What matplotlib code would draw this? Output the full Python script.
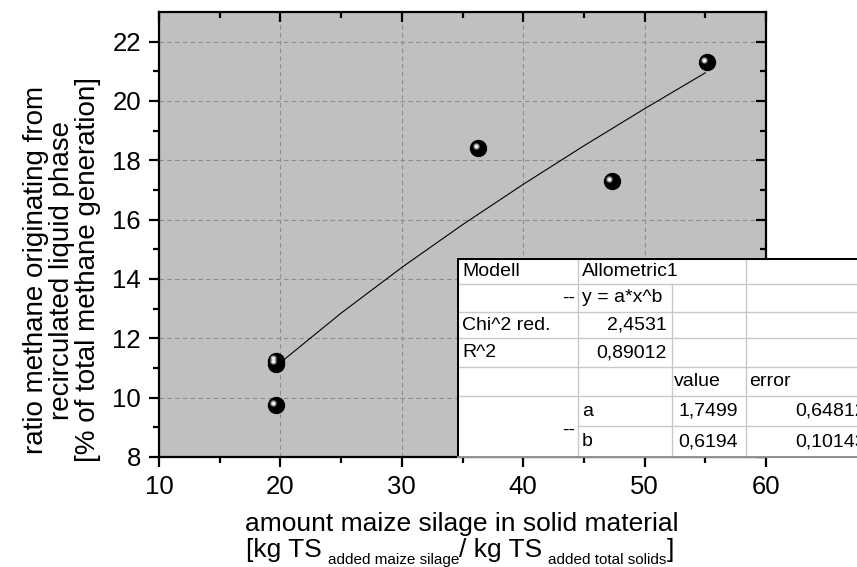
import numpy as np
import matplotlib
matplotlib.use('Agg')
import matplotlib.pyplot as plt
import matplotlib.transforms as mtransforms
from matplotlib.patches import Rectangle

plt.rcParams['font.family'] = ['Liberation Sans', 'DejaVu Sans']

# measured points
x_data = [19.6, 19.6, 19.6, 36.3, 47.3, 55.1]
y_data = [11.25, 11.15, 9.75, 18.4, 17.3, 21.3]

# fitted curve (Allometric1)
fit_x = [19.6, 25, 30, 35, 40, 45, 50, 55]
fit_y = [11.05, 12.85, 14.39, 15.83, 17.19, 18.49, 19.74, 20.95]

# fit report table
tab_rows = [
    ['Modell', 'Allometric1', '', ''],
    ['--', 'y = a*x^b', '', ''],
    ['Chi^2 red.', '2,4531', '', ''],
    ['R^2', '0,89012', '', ''],
    ['', '', 'value', 'error'],
    ['', 'a', '1,7499', '0,64812'],
    ['--', 'b', '0,6194', '0,10143'],
]

W, H = 857, 567
fig = plt.figure(figsize=(W / 100, H / 100), dpi=100)
ax = fig.add_axes([159 / W, 1 - 457 / H, (766 - 159) / W, (457 - 12) / H])
ax.set_facecolor('#c0c0c0')

ax.plot(fit_x, fit_y, color='black', lw=0.8, zorder=3)
ax.plot(x_data, y_data, 'o', ms=11.5, color='black', zorder=4)
hl = mtransforms.offset_copy(ax.transData, fig=fig, x=-2.5, y=2.5, units='dots')
ax.plot(x_data, y_data, 'o', ms=4.5, color='#9a9a9a', mec='none', transform=hl, zorder=5)
ax.plot(x_data, y_data, 'o', ms=2.2, color='white', mec='none', transform=hl, zorder=6)

ax.set_xlim(10, 60)
ax.set_ylim(8, 23)
ax.set_xticks(np.arange(10, 61, 10))
ax.set_xticks(np.arange(15, 60, 10), minor=True)
ax.set_yticks(np.arange(8, 23, 2))
ax.set_yticks(np.arange(9, 23, 2), minor=True)
ax.grid(True, which='major', color='#8c8c8c', ls=(0, (4, 3)), lw=0.8)
ax.set_axisbelow(True)

for s in ax.spines.values():
    s.set_linewidth(1.6)
ax.tick_params(which='both', top=True, right=True, width=1.6)
ax.tick_params(which='major', length=7, labelsize=18.5)
ax.tick_params(which='minor', length=4)
ax.tick_params(axis='x', which='both', top=True, labeltop=False, pad=6)
ax.tick_params(axis='y', which='both', right=True, labelright=False, pad=6)
# inward on top/right, outward on bottom/left
for t in ax.xaxis.get_major_ticks() + ax.xaxis.get_minor_ticks():
    t.tick2line.set_marker(3)
for t in ax.yaxis.get_major_ticks() + ax.yaxis.get_minor_ticks():
    t.tick2line.set_marker(0)

# x axis title, two lines; second line with small subscripts
fig.text(462 / W, 1 - 531 / H, 'amount maize silage in solid material',
         ha='center', va='baseline', fontsize=19)
pieces = [('[kg TS', 19, 0, 6), ('added maize silage', 11, 7, 0),
          ('/ kg TS', 19, 0, 6), ('added total solids', 11, 7, 0), (']', 19, 0, 0)]
rend = fig.canvas.get_renderer()
widths = []
for txt, size, dy, gap in pieces:
    t = fig.text(0, 0, txt, fontsize=size)
    widths.append(t.get_window_extent(rend).width)
    t.remove()
total = sum(widths) + sum(p[3] for p in pieces)
xpos = 460 - total / 2
for (txt, size, dy, gap), w in zip(pieces, widths):
    fig.text(xpos / W, 1 - (557 + dy) / H, txt, fontsize=size, ha='left', va='baseline')
    xpos += w + gap

fig.text(62 / W, 1 - 270 / H,
         'ratio methane originating from\nrecirculated liquid phase\n[% of total methane generation]',
         rotation=90, ha='center', va='center', fontsize=20, multialignment='center',
         linespacing=0.98)

# table drawn on its own axes, running off the right edge
tab = fig.add_axes([457 / W, 1 - 458 / H, 420 / W, 200 / H], zorder=10)
tab.set_xlim(0, 420)
tab.set_ylim(200, 0)
tab.axis('off')
tab.add_patch(Rectangle((0, 0), 420, 200, facecolor='white', edgecolor='none'))
row_y = [0, 26, 54, 80, 109, 138, 168, 200]
col_x = [0, 121, 215, 289, 420]
lc = '#c8c8c8'
for yy in row_y[1:-1]:
    tab.plot([col_x[1] if yy == 168 else 0, 420], [yy, yy], color=lc, lw=1)
tab.plot([121, 121], [0, 200], color=lc, lw=1)
tab.plot([215, 215], [26, 200], color=lc, lw=1)
tab.plot([289, 289], [0, 200], color=lc, lw=1)
tab.plot([0, 420], [0, 0], color='black', lw=2.2)
tab.plot([0, 0], [0, 200], color='black', lw=2.2)
tab.plot([0, 420], [199, 199], color='#8a8a8a', lw=2)

fs = 14
for r, row in enumerate(tab_rows):
    yc = (row_y[r] + row_y[r + 1]) / 2
    for c, txt in enumerate(row):
        if not txt:
            continue
        kw = dict(va='center', fontsize=fs)
        if c == 0 and txt == '--':
            tab.text(118, 172 if r == 6 else yc, txt, ha='right', **kw)
        elif c == 0:
            tab.text(5, yc, txt, ha='left', **kw)
        elif c == 1 and r in (2, 3):
            tab.text(210, yc, txt, ha='right', **kw)
        elif c == 1:
            tab.text(125, yc, txt, ha='left', **kw)
        elif c == 2 and r >= 5:
            tab.text(281, yc, txt, ha='right', **kw)
        elif c == 2:
            tab.text(217, yc, txt, ha='left', **kw)
        elif c == 3 and r >= 5:
            tab.text(338, yc, txt, ha='left', **kw)
        else:
            tab.text(292, yc, txt, ha='left', **kw)

fig.savefig('out.png', dpi=100)
